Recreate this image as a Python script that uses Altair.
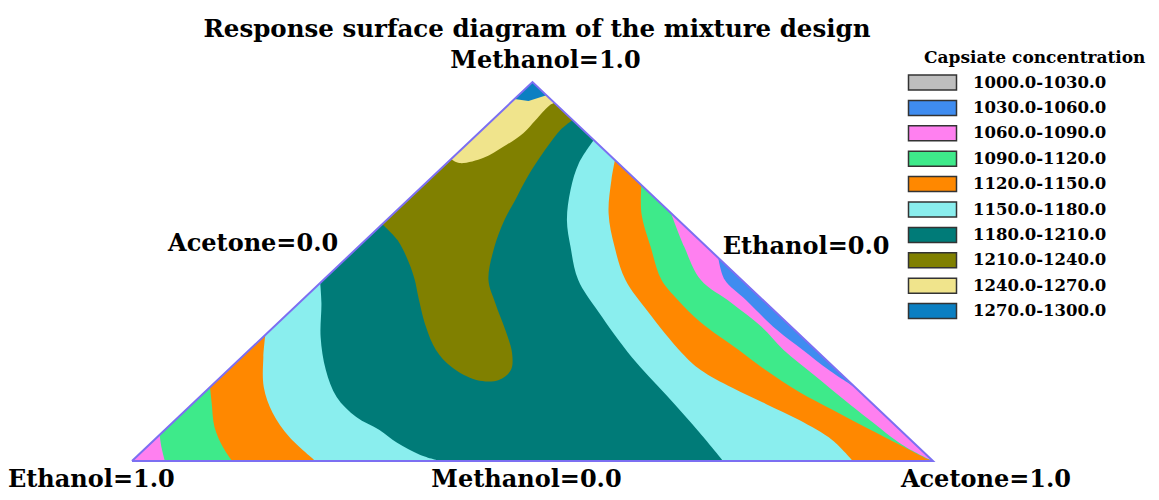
import altair as alt
import pandas as pd

# ---------------- data ----------------
title_text = "Response surface diagram of the mixture design"
legend_title = "Capsiate concentration"

classes = ["1000.0-1030.0", "1030.0-1060.0", "1060.0-1090.0", "1090.0-1120.0",
           "1120.0-1150.0", "1150.0-1180.0", "1180.0-1210.0", "1210.0-1240.0",
           "1240.0-1270.0", "1270.0-1300.0"]
class_colors = ["#bebebe", "#3f8cf0", "#ff80f0", "#3eea8a", "#ff8800",
                "#8aeeee", "#007b78", "#808000", "#f0e48c", "#0b7fc2"]

# corners as (acetone, methanol); ethanol = 1 - acetone - methanol
corner_ethanol = (0.0, 0.0)
corner_acetone = (1.0, 0.0)
corner_methanol = (0.0, 1.0)

# contour lines of the response surface, (acetone, methanol) pairs
line_1240_top = [(0.000, 0.797), (0.016, 0.786), (0.039, 0.800), (0.049, 0.829),
                 (0.056, 0.865), (0.054, 0.900), (0.052, 0.937), (0.055, 0.945)]
line_1210 = [(0.000, 0.625), (0.040, 0.583), (0.085, 0.522), (0.114, 0.478),
             (0.141, 0.433), (0.190, 0.354), (0.233, 0.293), (0.275, 0.248),
             (0.323, 0.214), (0.351, 0.214), (0.353, 0.240), (0.332, 0.285),
             (0.293, 0.346), (0.245, 0.417), (0.206, 0.478), (0.170, 0.565),
             (0.147, 0.636), (0.134, 0.689), (0.119, 0.749), (0.104, 0.829),
             (0.098, 0.873), (0.100, 0.900)]
line_1180_left = [(0.000, 0.470), (0.028, 0.417), (0.072, 0.327), (0.122, 0.240),
                  (0.171, 0.169), (0.222, 0.116), (0.268, 0.082), (0.307, 0.048),
                  (0.352, 0.016), (0.385, 0.000)]
line_1150_left = [(0.000, 0.333), (0.027, 0.274), (0.067, 0.195), (0.112, 0.127),
                  (0.165, 0.063), (0.229, 0.000)]
line_1120_left = [(0.000, 0.195), (0.023, 0.153), (0.058, 0.090), (0.095, 0.037),
                  (0.125, 0.000)]
line_1090_left = [(0.000, 0.069), (0.020, 0.034), (0.041, 0.000)]
line_1180_right = [(0.153, 0.847), (0.165, 0.786), (0.190, 0.715), (0.225, 0.636),
                   (0.265, 0.565), (0.318, 0.478), (0.386, 0.393), (0.487, 0.274),
                   (0.580, 0.174), (0.672, 0.074), (0.738, 0.000)]
line_1150_right = [(0.206, 0.794), (0.228, 0.741), (0.268, 0.654), (0.320, 0.565),
                   (0.377, 0.478), (0.448, 0.393), (0.544, 0.285), (0.590, 0.240),
                   (0.653, 0.193), (0.717, 0.150), (0.779, 0.108), (0.847, 0.055),
                   (0.900, 0.000)]
line_1120_right = [(0.272, 0.728), (0.309, 0.654), (0.365, 0.565), (0.422, 0.478),
                   (0.469, 0.425), (0.526, 0.367), (0.611, 0.293), (0.671, 0.240),
                   (0.742, 0.182), (0.807, 0.135), (0.874, 0.087), (0.938, 0.042),
                   (0.986, 0.008)]
line_1090_right = [(0.346, 0.654), (0.407, 0.565), (0.471, 0.478), (0.540, 0.417),
                   (0.609, 0.354), (0.667, 0.293), (0.738, 0.227), (0.809, 0.161),
                   (0.867, 0.108), (0.941, 0.042), (0.992, 0.005)]
line_1060_right = [(0.464, 0.536), (0.501, 0.478), (0.554, 0.425), (0.632, 0.346),
                   (0.691, 0.293), (0.750, 0.240), (0.807, 0.193)]
patch_1270_top = [(0.000, 1.000), (0.000, 0.955), (0.020, 0.950), (0.035, 0.965)]

# axis-end labels and the corner / edge point each belongs to
vertex_labels = ["Methanol=1.0", "Acetone=0.0", "Ethanol=0.0",
                 "Ethanol=1.0", "Methanol=0.0", "Acetone=1.0"]
label_acetone = [0.0, 0.0, 0.5, 0.0, 0.5, 1.0]
label_methanol = [1.0, 0.5, 0.5, 0.0, 0.0, 0.0]


# ---------------- build tables ----------------
def held(pts):
    """repeat the end points so the smoothed outline runs straight along the edges"""
    return [pts[0]] + list(pts) + [pts[-1]]


# filled regions, painted in this order: (class, outline, smooth?)
regions = [
    ("1180.0-1210.0", [corner_ethanol, corner_acetone, corner_methanol], False),
    ("1150.0-1180.0", held([corner_ethanol]) + held(line_1180_left), True),
    ("1120.0-1150.0", held([corner_ethanol]) + held(line_1150_left), True),
    ("1090.0-1120.0", held([corner_ethanol]) + held(line_1120_left), True),
    ("1060.0-1090.0", held([corner_ethanol]) + held(line_1090_left), True),
    ("1150.0-1180.0", held(line_1180_right) + held([corner_acetone]), True),
    ("1120.0-1150.0", held(line_1150_right) + held([corner_acetone]), True),
    ("1090.0-1120.0", held(line_1120_right) + held([corner_acetone]), True),
    ("1060.0-1090.0", held(line_1090_right) + held([corner_acetone]), True),
    ("1030.0-1060.0", held(line_1060_right), True),
    ("1210.0-1240.0", held(line_1210) + held([corner_methanol]), True),
    ("1240.0-1270.0", held(line_1240_top) + held([corner_methanol]), True),
    ("1270.0-1300.0", patch_1270_top, False),
]

rows = []
for pid, (cls, pts, _) in enumerate(regions):
    for k, (a, m) in enumerate(pts):
        rows.append({"poly": pid, "k": k, "cls": cls, "acetone": a, "methanol": m})
poly_df = pd.DataFrame(rows)

outline = [corner_ethanol, corner_acetone, corner_methanol, corner_ethanol]
outline_df = pd.DataFrame({"k": list(range(len(outline))),
                           "acetone": [p[0] for p in outline],
                           "methanol": [p[1] for p in outline]})

labels_df = pd.DataFrame({"label": vertex_labels, "acetone": label_acetone,
                          "methanol": label_methanol})

# ---------------- layout ----------------
W, H = 1143, 484
X_DOM = [-0.1548, 1.2722]
Y_DOM = [-0.0818, 1.1953]

x_enc = alt.X("px:Q", scale=alt.Scale(domain=X_DOM, nice=False, zero=False), axis=None)
y_enc = alt.Y("py:Q", scale=alt.Scale(domain=Y_DOM, nice=False, zero=False), axis=None)
color_scale = alt.Scale(domain=classes, range=class_colors)
FONT = "DejaVu Serif"

legend = alt.Legend(
    orient="none", legendX=916, legendY=42,
    symbolType="M-3.2,-1H3.2V1H-3.2Z", symbolSize=225,
    symbolStrokeColor="#333333", symbolStrokeWidth=1.5,
    symbolOpacity=1, labelOffset=32, rowPadding=4.4,
    titlePadding=7, labelFont=FONT, labelFontWeight="bold",
    labelFontSize=16.5, labelColor="black",
    titleFont=FONT, titleFontWeight="bold",
    titleFontSize=17, titleColor="black",
    labelLimit=300, titleLimit=400)
color_enc = alt.Color("cls:N", scale=color_scale, title=legend_title, legend=legend)


def tern(chart):
    return chart.transform_calculate(px="datum.acetone + datum.methanol / 2",
                                     py="datum.methanol")


layers = []
for pid, (_, _, smooth) in enumerate(regions):
    layers.append(
        tern(alt.Chart(poly_df))
        .transform_filter(alt.datum.poly == pid)
        .mark_line(filled=True, strokeWidth=0,
                   interpolate="catmull-rom" if smooth else "linear")
        .encode(x=x_enc, y=y_enc, order="k:Q", color=color_enc)
    )

layers.append(
    tern(alt.Chart(outline_df))
    .mark_line(color="#7c6ff2", strokeWidth=2)
    .encode(x=x_enc, y=y_enc, order="k:Q")
)

label_style = {
    "Methanol=1.0": dict(align="center", dx=13, dy=-14),
    "Acetone=0.0": dict(align="right", dx=6, dy=-21),
    "Ethanol=0.0": dict(align="left", dx=-10, dy=-18),
    "Ethanol=1.0": dict(align="left", dx=-124, dy=26),
    "Methanol=0.0": dict(align="center", dx=-6, dy=26),
    "Acetone=1.0": dict(align="center", dx=53, dy=26),
}
for lab in vertex_labels:
    st = label_style[lab]
    layers.append(
        tern(alt.Chart(labels_df))
        .transform_filter(alt.datum.label == lab)
        .mark_text(font=FONT, fontWeight="bold", fontSize=24, color="black",
                   baseline="alphabetic", **st)
        .encode(x=x_enc, y=y_enc, text="label:N")
    )

layers.append(
    alt.Chart(pd.DataFrame({"t": [title_text]}))
    .mark_text(font=FONT, fontWeight="bold", fontSize=24.5, color="black",
               align="center", baseline="alphabetic")
    .encode(x=alt.value(529), y=alt.value(29), text="t:N")
)

chart = (
    alt.layer(*layers)
    .properties(width=W, height=H, padding=0, autosize="none", background="white")
    .configure_view(stroke=None)
)

chart.save("out.html", embed_options={"renderer": "svg", "actions": False})
